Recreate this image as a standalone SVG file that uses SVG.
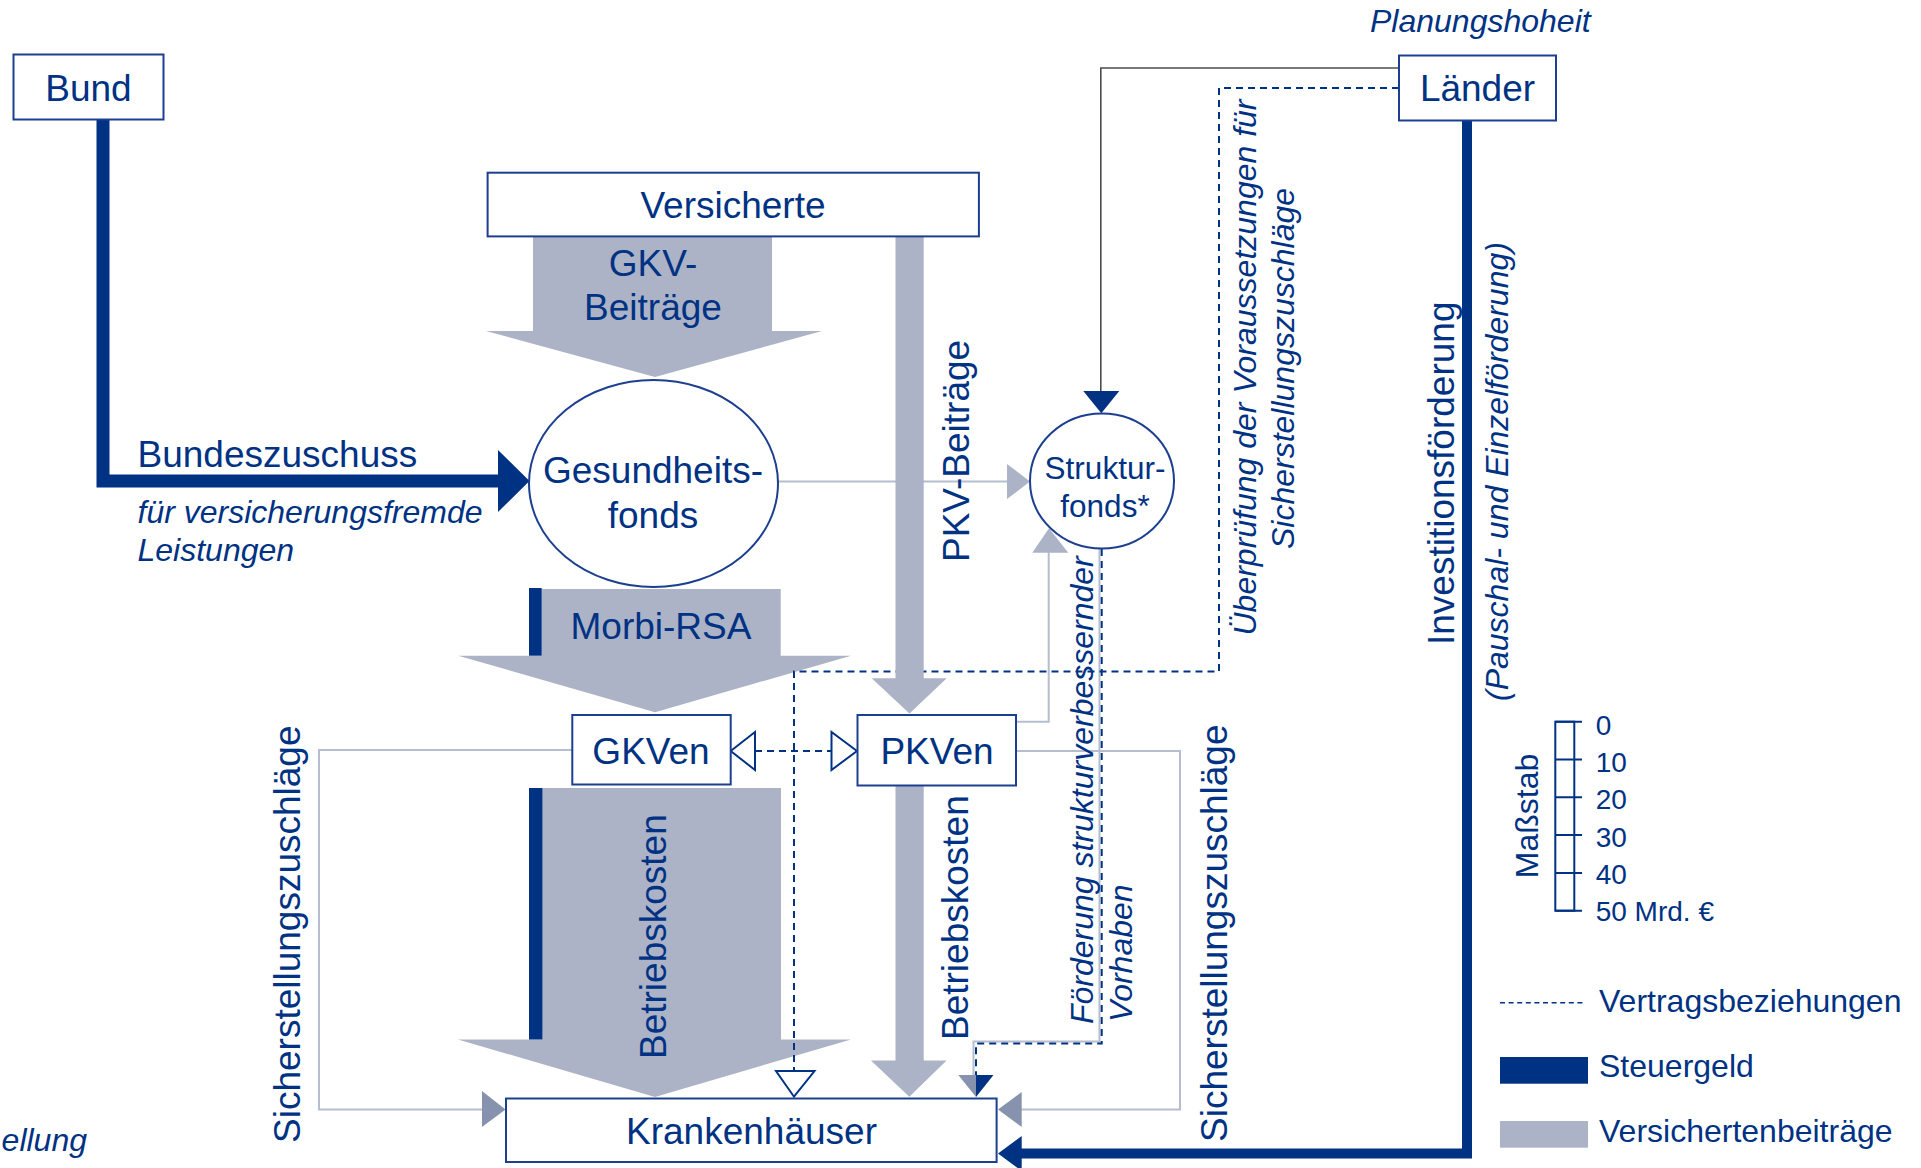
<svg xmlns="http://www.w3.org/2000/svg" width="1921" height="1168" viewBox="0 0 1921 1168">
<style>
.t{font-family:"Liberation Sans",Arial,sans-serif;fill:#003283}
.b{font-size:37px}
.m{font-size:32px}
.s{font-size:31.5px}
.i{font-style:italic;font-size:32px}
.box{fill:#fff;stroke:#1c3f8f;stroke-width:2}
.gf{fill:#adb3c7}
.ga{fill:#8792ae}
.bl{fill:#003283}
.gl{stroke:#b6bdce;stroke-width:2;fill:none}
.dl{stroke:#003283;stroke-width:2;stroke-dasharray:7 5;fill:none}
.open{fill:#fff;stroke:#003283;stroke-width:2}
</style>
<rect width="1921" height="1168" fill="#fff"/>
<g id="connectors">
  <!-- GKV-Beiträge -->
  <polygon class="gf" points="533,236 772,236 772,331 822,331 655,377 486,331 533,331"/>
  <!-- Morbi-RSA -->
  <polygon class="gf" points="541.7,589 780.7,589 780.7,655.7 851,655.7 655,712.3 458.3,655.7 541.7,655.7"/>
  <rect class="bl" x="529" y="588" width="12.7" height="67.7"/>
  <!-- GKV Betriebskosten -->
  <polygon class="gf" points="542.5,788 781,788 781,1039.5 851,1039.5 655,1097 458,1039.5 542.5,1039.5"/>
  <rect class="bl" x="529" y="788" width="13.5" height="251.5"/>
  <!-- thin grey flows -->
  <path class="gl" d="M778 481.5 H1007"/>
  <polygon class="gf" points="1007,464 1030,481.5 1007,499"/>
  <path class="gl" d="M1016 721.7 H1048.7 V552"/>
  <polygon class="gf" points="1032.3,552.7 1049,528.3 1068.3,552.7"/>
  <path class="gl" d="M572 750 H319 V1109.5 H483"/>
  <polygon class="ga" points="482,1091 505.5,1109.5 482,1127"/>
  <path class="gl" d="M1016 751 H1180 V1109.5 H1021"/>
  <polygon class="ga" points="1021.7,1092 998,1109.5 1021.7,1127"/>
  <path class="gl" d="M1099.5 549 V1041.5 H973.5 V1076"/>
  <!-- Länder to Strukturfonds -->
  <path d="M1399 68 H1100.8 V392" stroke="#4d4d4d" stroke-width="1.6" fill="none"/>
  <polygon class="bl" points="1083.3,391 1119.3,391 1101.3,413.3"/>
  <!-- dashed contract lines -->
  <path class="dl" d="M1399 88 H1219 V671.5 H794 V1071"/>
  <path class="dl" d="M755 751 H831.5"/>
  <path class="dl" d="M1101.7 549 V1043.5 H976 V1076"/>
  <polygon class="open" points="730.7,751 755,732 755,770"/>
  <polygon class="open" points="857,751 831.5,732 831.5,770"/>
  <polygon class="open" points="776,1071 814.5,1071 794,1096.7"/>
  <polygon class="ga" points="958.3,1075 976,1075 976,1097"/>
  <polygon class="bl" points="976,1075 993.5,1075 976,1097"/>
  <!-- PKV columns -->
  <polygon class="gf" points="895.5,236.4 923.7,236.4 923.7,678.3 946.7,678.3 909.5,713.5 871.7,678.3 895.5,678.3"/>
  <polygon class="gf" points="895.5,786 923.7,786 923.7,1060.6 946.6,1060.6 909.3,1096.7 871,1060.6 895.5,1060.6"/>
  <!-- Steuergeld Bund -->
  <path d="M103 119.5 V481 H499" stroke="#003283" stroke-width="13" fill="none"/>
  <polygon class="bl" points="498,450 529.5,481 498,512"/>
  <!-- Steuergeld Länder -->
  <path d="M1467 120.5 V1153.5 H1020" stroke="#003283" stroke-width="10" fill="none"/>
  <polygon class="bl" points="1021.7,1136 998,1153.5 1021.7,1171"/>
  <!-- connector labels -->
  <text class="t b" x="137.5" y="467">Bundeszuschuss</text>
  <text class="t i" x="137.5" y="522.5">für versicherungsfremde</text>
  <text class="t i" x="137.5" y="561">Leistungen</text>
  <text class="t b" x="653" y="276" text-anchor="middle">GKV-</text>
  <text class="t b" x="653" y="320" text-anchor="middle">Beiträge</text>
  <text class="t b" x="661" y="639" text-anchor="middle">Morbi-RSA</text>
  <text class="t b" transform="translate(969 562) rotate(-90)">PKV-Beiträge</text>
  <text class="t b" transform="translate(665.5 1059) rotate(-90)">Betriebskosten</text>
  <text class="t b" transform="translate(968 1040) rotate(-90)">Betriebskosten</text>
  <text class="t b" transform="translate(300 1143) rotate(-90)">Sicherstellungszuschläge</text>
  <text class="t b" transform="translate(1226.5 1142) rotate(-90)">Sicherstellungszuschläge</text>
  <text class="t i" transform="translate(1093 1024) rotate(-90)">Förderung strukturverbessernder</text>
  <text class="t i" transform="translate(1131.5 1022) rotate(-90)">Vorhaben</text>
  <text class="t i" transform="translate(1256 367.5) rotate(-90)" text-anchor="middle">Überprüfung der Voraussetzungen für</text>
  <text class="t i" transform="translate(1294 368.5) rotate(-90)" text-anchor="middle">Sicherstellungszuschläge</text>
  <text class="t b" transform="translate(1454 645) rotate(-90)">Investitionsförderung</text>
  <text class="t i" transform="translate(1508 701) rotate(-90)">(Pauschal- und Einzelförderung)</text>
  <text class="t i" x="1370" y="32">Planungshoheit</text>
  <text class="t i" x="87" y="1151" text-anchor="end" font-size="33">ellung</text>
</g>
<g id="bund">
  <rect class="box" x="13.5" y="54.5" width="150" height="65"/>
  <text class="t b" x="88.5" y="100.5" text-anchor="middle">Bund</text>
</g>
<g id="laender">
  <rect class="box" x="1399" y="55.5" width="157" height="65"/>
  <text class="t b" x="1477.5" y="101" text-anchor="middle">Länder</text>
</g>
<g id="versicherte">
  <rect class="box" x="487.6" y="172.7" width="491.3" height="63.7"/>
  <text class="t b" x="733" y="218" text-anchor="middle">Versicherte</text>
</g>
<g id="gesundheitsfonds">
  <ellipse class="box" cx="653.5" cy="483.5" rx="124.5" ry="103.5"/>
  <text class="t b" x="653" y="482.5" text-anchor="middle">Gesundheits-</text>
  <text class="t b" x="653" y="528" text-anchor="middle">fonds</text>
</g>
<g id="strukturfonds">
  <ellipse class="box" cx="1102" cy="481" rx="72" ry="67.5"/>
  <text class="t s" x="1105" y="479" text-anchor="middle">Struktur-</text>
  <text class="t s" x="1105" y="517" text-anchor="middle">fonds*</text>
</g>
<g id="gkven">
  <rect class="box" x="572.3" y="715" width="158.4" height="69.5"/>
  <text class="t b" x="651" y="763.5" text-anchor="middle">GKVen</text>
</g>
<g id="pkven">
  <rect class="box" x="857.5" y="715" width="158.5" height="70.5"/>
  <text class="t b" x="937" y="763.5" text-anchor="middle">PKVen</text>
</g>
<g id="krankenhaeuser">
  <rect class="box" x="506" y="1098.5" width="490.6" height="63.5"/>
  <text class="t b" x="751.5" y="1144" text-anchor="middle">Krankenhäuser</text>
</g>
<g id="legend">
  <g fill="none" stroke="#003283" stroke-width="2">
    <rect x="1555.3" y="721.7" width="19" height="189"/>
    <path d="M1555.3 721.7 H1582 M1555.3 759.5 H1582 M1555.3 797.3 H1582 M1555.3 835.1 H1582 M1555.3 872.9 H1582 M1555.3 910.7 H1582"/>
  </g>
  <text class="t" font-size="28" x="1595.7" y="735">0</text>
  <text class="t" font-size="28" x="1595.7" y="772">10</text>
  <text class="t" font-size="28" x="1595.7" y="809">20</text>
  <text class="t" font-size="28" x="1595.7" y="846.5">30</text>
  <text class="t" font-size="28" x="1595.7" y="884">40</text>
  <text class="t" font-size="28" x="1595.7" y="921">50 Mrd. €</text>
  <text class="t m" transform="translate(1538 816) rotate(-90)" text-anchor="middle">Maßstab</text>
  <path d="M1500 1002.7 H1586" stroke="#003283" stroke-width="1.5" stroke-dasharray="5 3.6" fill="none"/>
  <text class="t m" x="1599" y="1012">Vertragsbeziehungen</text>
  <rect class="bl" x="1500" y="1057" width="88" height="26.7"/>
  <text class="t m" x="1599" y="1077">Steuergeld</text>
  <rect class="gf" x="1500" y="1121" width="88" height="26.7"/>
  <text class="t m" x="1599" y="1142">Versichertenbeiträge</text>
</g>
</svg>
